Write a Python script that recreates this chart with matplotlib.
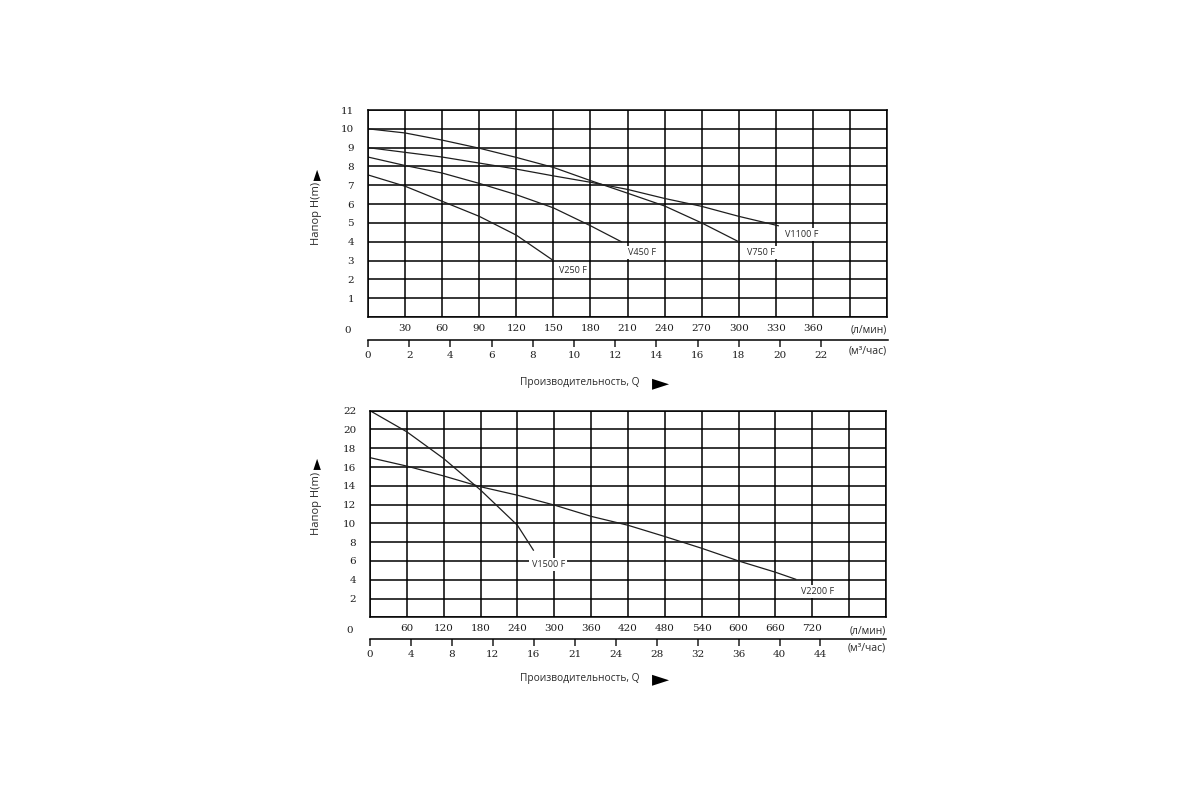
import matplotlib
matplotlib.use("Agg")
from matplotlib import pyplot as plt
import numpy as np

# верхний график: расход л/мин, напор м
q_top = [0, 30, 60, 90, 120, 150, 180, 210, 240, 270, 300, 332]
v250 = [7.55, 6.95, 6.15, 5.35, 4.35, 3.0]
v450_q = [0, 30, 60, 90, 120, 150, 180, 205]
v450 = [8.5, 8.05, 7.65, 7.1, 6.5, 5.8, 4.85, 4.0]
v750_q = [0, 30, 60, 90, 120, 150, 180, 210, 240, 270, 300]
v750 = [10.0, 9.78, 9.4, 8.97, 8.48, 7.95, 7.25, 6.58, 5.9, 5.0, 4.0]
v1100 = [9.0, 8.75, 8.5, 8.18, 7.86, 7.5, 7.16, 6.78, 6.3, 5.88, 5.35, 4.85]

# нижний график
v1500_q = [0, 60, 120, 180, 240, 266]
v1500 = [22.0, 19.75, 16.9, 13.55, 9.8, 7.15]
v2200_q = [0, 60, 120, 180, 240, 300, 360, 420, 480, 540, 600, 660, 693]
v2200 = [17.0, 16.1, 15.05, 13.9, 13.0, 11.95, 10.75, 9.8, 8.6, 7.35, 6.0, 4.8, 4.05]

top_lmin = [30, 60, 90, 120, 150, 180, 210, 240, 270, 300, 330, 360]
top_m3 = [0, 2, 4, 6, 8, 10, 12, 14, 16, 18, 20, 22]
bot_lmin = [60, 120, 180, 240, 300, 360, 420, 480, 540, 600, 660, 720]
bot_m3 = [0, 4, 8, 12, 16, 20, 24, 28, 32, 36, 40, 44]
bot_m3_lbl = ["0", "4", "8", "12", "16", "21", "24", "28", "32", "36", "40", "44"]

W, H = 1200, 800
SERIF = "DejaVu Serif"
SANS = ["Open Sans", "DejaVu Sans"]
TXT = "#2a2a2a"
NUM = "#1e1e1e"

def px(x0, y0, x1, y1):
    return [x0 / W, 1 - y1 / H, (x1 - x0) / W, (y1 - y0) / H]

fig = plt.figure(figsize=(12, 8), dpi=100)

def chart(rect, xmax, xstep, ymax, ystep, lmin_ticks):
    ax = fig.add_axes(rect)
    ax.set_xlim(0, xmax)
    ax.set_ylim(0, ymax)
    xt = np.arange(0, xmax + 1, xstep)
    ax.set_xticks(xt)
    ax.set_xticklabels([str(v) if v in lmin_ticks else "" for v in xt])
    yt = np.arange(0, ymax + 1, ystep)
    ax.set_yticks(yt)
    ax.set_yticklabels(["" if v == 0 else str(v) for v in yt])
    ax.grid(True, color="black", lw=1.1)
    ax.tick_params(length=0, labelsize=7.5, colors=NUM, pad=5)
    ax.tick_params(axis="y", pad=10)
    for lab in ax.get_xticklabels() + ax.get_yticklabels():
        lab.set_fontfamily(SERIF)
    for s in ax.spines.values():
        s.set_linewidth(1.1)
        s.set_color("black")
    ax.text(-0.04, -0.065, "0", transform=ax.transAxes, ha="center", va="center",
            fontsize=7.5, family=SERIF, color=NUM)
    ax.text(1.0, -0.065, "(л/мин)", transform=ax.transAxes, ha="right", va="center",
            fontsize=7.5, family=SANS, color=TXT)
    return ax

def m3_axis(rect, xmax, ticks, labels):
    a = fig.add_axes(rect)
    a.set_facecolor("none")
    a.set_xlim(0, xmax)
    a.set_xticks(ticks)
    a.set_xticklabels(labels)
    a.set_yticks([])
    for k in ["top", "left", "right"]:
        a.spines[k].set_visible(False)
    a.spines["bottom"].set_linewidth(1.1)
    a.tick_params(axis="x", direction="out", length=5, width=1.1, labelsize=7.5,
                  colors=NUM, pad=3)
    for lab in a.get_xticklabels():
        lab.set_fontfamily(SERIF)
    return a

def curve_label(ax, x, y, s):
    ax.text(x, y, s, ha="center", va="center", fontsize=6.5, family=SANS, color=TXT,
            bbox=dict(facecolor="white", edgecolor="none", pad=1.5))

def axis_titles(y_x, y_arrow, y_text):
    fig.text(580 / W, 1 - y_x / H, "Производительность, Q", ha="center", va="center",
             fontsize=7.3, family=SANS, color=TXT)
    fig.text(660 / W, 1 - (y_x + 1) / H, "►", ha="center", va="center", fontsize=16,
             family="DejaVu Sans", color="black")
    fig.text(317 / W, 1 - y_text / H, "Напор H(m)", ha="center", va="center",
             rotation=90, fontsize=8, family=SANS, color=TXT)
    fig.text(318 / W, 1 - y_arrow / H, "►", ha="center", va="center", rotation=90,
             fontsize=10.5, family="DejaVu Sans", color="black")

# ---- верхний
ax1 = chart(px(368, 110, 887, 317), 420, 30, 11, 1, top_lmin)
lw = 0.9
ax1.plot(q_top[:len(v250)], v250, color="#1e1e1e", lw=lw)
ax1.plot(v450_q, v450, color="#1e1e1e", lw=lw)
ax1.plot(v750_q, v750, color="#1e1e1e", lw=lw)
ax1.plot(q_top, v1100, color="#1e1e1e", lw=lw)
curve_label(ax1, 166, 2.45, "V250 F")
curve_label(ax1, 222, 3.45, "V450 F")
curve_label(ax1, 318, 3.45, "V750 F")
curve_label(ax1, 351, 4.4, "V1100 F")
m3_axis(px(368, 339, 888, 340), 25.2 * 520 / 519, top_m3, [str(v) for v in top_m3])
fig.text(887 / W, 1 - 351 / H, "(м³/час)", ha="right", va="center", fontsize=7.5,
         family=SANS, color=TXT)
axis_titles(382, 174, 213.5)

# ---- нижний
ax2 = chart(px(370, 410.7, 886, 617.3), 840, 60, 22, 2, bot_lmin)
ax2.plot(v1500_q, v1500, color="#1e1e1e", lw=lw)
ax2.plot(v2200_q, v2200, color="#1e1e1e", lw=lw)
curve_label(ax2, 290, 5.66, "V1500 F")
curve_label(ax2, 729, 2.78, "V2200 F")
m3_axis(px(370, 638, 886, 639), 50.4, bot_m3, bot_m3_lbl)
fig.text(886 / W, 1 - 648 / H, "(м³/час)", ha="right", va="center", fontsize=7.5,
         family=SANS, color=TXT)
axis_titles(678, 463.5, 503.5)

fig.savefig("out.png", dpi=100)
